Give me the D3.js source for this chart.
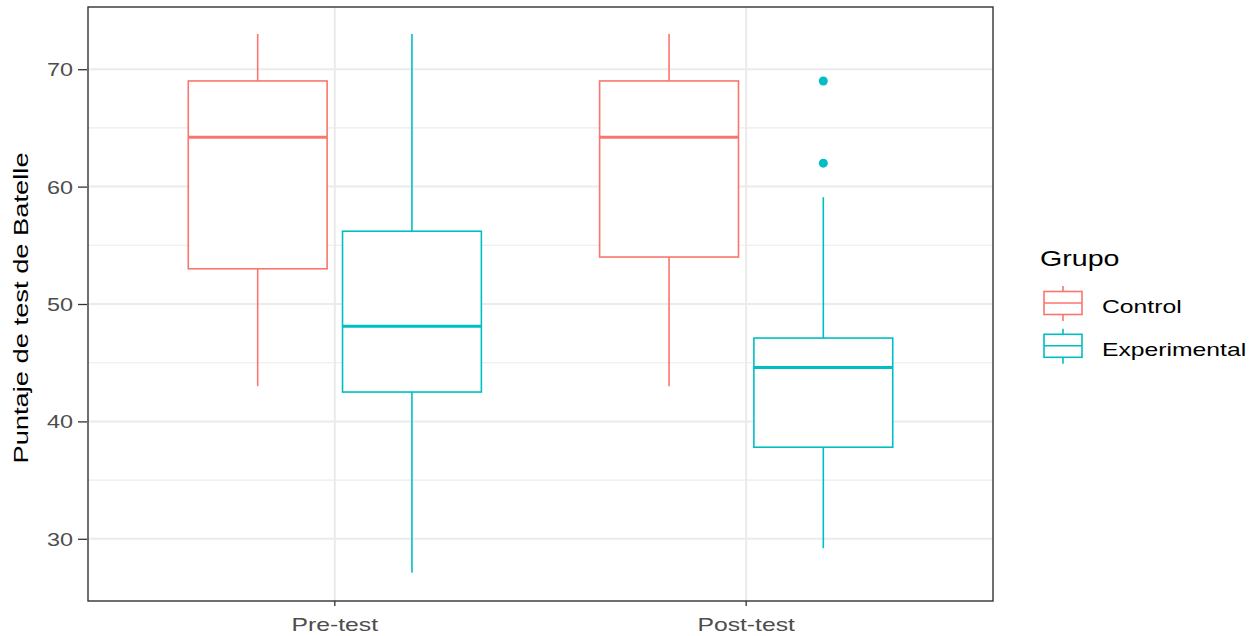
<!DOCTYPE html>
<html><head><meta charset="utf-8">
<script src="https://cdn.jsdelivr.net/npm/d3@7"></script>
<style>body{margin:0;background:#fff}svg{display:block;font-family:"Liberation Sans",Arial,sans-serif}</style>
</head><body><svg id="c" width="1258" height="636"></svg>
<script>
const categories = ["Pre-test", "Post-test"];
const groups = ["Control", "Experimental"];
const colors = ["#F8766D", "#00BFC4"];
// [lower whisker, Q1, median, Q3, upper whisker] per category, per group
const controlStats = [[43, 53, 64.2, 69, 73], [43, 54, 64.2, 69, 73]];
const experimentalStats = [[27.1, 42.5, 48.1, 56.2, 73], [29.2, 37.8, 44.6, 47.1, 59.1]];
const controlOutliers = [[], []];
const experimentalOutliers = [[], [69, 62]];
const yTicks = [30, 40, 50, 60, 70];
const yMinor = [35, 45, 55, 65];
const yTitle = "Puntaje de test de Batelle";
const legendTitle = "Grupo";

const STRETCH = 1.3;
function stretch(sel) {
  sel.each(function () {
    const w = this.getComputedTextLength();
    d3.select(this).attr("textLength", w * STRETCH).attr("lengthAdjust", "spacingAndGlyphs");
  });
}

const svg = d3.select("#c");
const L = 88, R = 993, T = 7, B = 601;
const y = d3.scaleLinear().domain([24.7, 75.3]).range([B, T]);
const x = d3.scaleLinear().domain([0.4, 2.6]).range([L, R]);
const stats = [controlStats, experimentalStats];
const outs = [controlOutliers, experimentalOutliers];

// grid
const g = svg.append("g");
g.selectAll(".mn").data(yMinor).join("line").attr("x1", L).attr("x2", R)
  .attr("y1", d => y(d)).attr("y2", d => y(d)).attr("stroke", "#EBEBEB").attr("stroke-width", 1.1);
g.selectAll(".mj").data(yTicks).join("line").attr("x1", L).attr("x2", R)
  .attr("y1", d => y(d)).attr("y2", d => y(d)).attr("stroke", "#EBEBEB").attr("stroke-width", 2);
g.selectAll(".mx").data(categories).join("line").attr("y1", T).attr("y2", B)
  .attr("x1", (d, i) => x(i + 1)).attr("x2", (d, i) => x(i + 1)).attr("stroke", "#EBEBEB").attr("stroke-width", 2);

// boxes
const halfW = 0.375 * 0.9 / 2;
groups.forEach((grp, gi) => {
  const col = colors[gi];
  categories.forEach((cat, ci) => {
    const s = stats[gi][ci];
    const cx = ci + 1 + (gi === 0 ? -0.1875 : 0.1875);
    const bg = svg.append("g");
    bg.append("line").attr("x1", x(cx)).attr("x2", x(cx)).attr("y1", y(s[4])).attr("y2", y(s[3]))
      .attr("stroke", col).attr("stroke-width", 1.6);
    bg.append("line").attr("x1", x(cx)).attr("x2", x(cx)).attr("y1", y(s[1])).attr("y2", y(s[0]))
      .attr("stroke", col).attr("stroke-width", 1.6);
    bg.append("rect").attr("x", x(cx - halfW)).attr("width", x(cx + halfW) - x(cx - halfW))
      .attr("y", y(s[3])).attr("height", y(s[1]) - y(s[3]))
      .attr("fill", "white").attr("stroke", col).attr("stroke-width", 1.6);
    bg.append("line").attr("x1", x(cx - halfW)).attr("x2", x(cx + halfW)).attr("y1", y(s[2])).attr("y2", y(s[2]))
      .attr("stroke", col).attr("stroke-width", 3);
    bg.selectAll("circle").data(outs[gi][ci]).join("circle").attr("cx", x(cx)).attr("cy", d => y(d))
      .attr("r", 4.5).attr("fill", col);
  });
});

// panel border
svg.append("rect").attr("x", L).attr("y", T).attr("width", R - L).attr("height", B - T)
  .attr("fill", "none").attr("stroke", "#333333").attr("stroke-width", 1.4);

// y axis
const ya = svg.append("g").attr("transform", `translate(${L},0)`)
  .call(d3.axisLeft(y).tickValues(yTicks).tickSize(10).tickPadding(5));
ya.select(".domain").remove();
ya.selectAll(".tick line").attr("stroke", "#333333").attr("stroke-width", 1.3).attr("x2", -10).attr("x1", -1);
ya.selectAll(".tick text").attr("fill", "#4D4D4D").style("font-size", "18px")
  .style("font-family", "Liberation Sans, Arial, sans-serif").attr("dy", "0.36em").call(stretch);

// x axis
const xb = d3.scaleBand().domain(categories).range([x(0.5), x(2.5)]);
const xa = svg.append("g").attr("transform", `translate(0,${B})`)
  .call(d3.axisBottom(xb).tickSize(5).tickPadding(0));
xa.select(".domain").remove();
xa.selectAll(".tick line").attr("stroke", "#333333").attr("stroke-width", 1.3);
xa.selectAll(".tick text").attr("fill", "#4D4D4D").style("font-size", "19px")
  .style("font-family", "Liberation Sans, Arial, sans-serif").attr("y", 30).attr("dy", 0).call(stretch);

// y title
svg.append("text").attr("transform", `translate(28,308) rotate(-90)`)
  .attr("text-anchor", "middle").style("font-size", "21px").attr("fill", "black").text(yTitle).call(stretch);

// legend
svg.append("text").attr("x", 1040).attr("y", 266).style("font-size", "22px").attr("fill", "black").text(legendTitle).call(stretch);
groups.forEach((grp, gi) => {
  const col = colors[gi];
  const top = 286 + gi * 42.8;
  const lg = svg.append("g");
  const kx = 1063;
  lg.append("line").attr("x1", kx).attr("x2", kx).attr("y1", top).attr("y2", top + 35).attr("stroke", col).attr("stroke-width", 1.6);
  lg.append("rect").attr("x", 1044).attr("y", top + 5.5).attr("width", 38).attr("height", 23)
    .attr("fill", "white").attr("stroke", col).attr("stroke-width", 1.6);
  lg.append("line").attr("x1", 1044).attr("x2", 1082).attr("y1", top + 17).attr("y2", top + 17).attr("stroke", col).attr("stroke-width", 1.6);
  lg.append("text").attr("x", 1102).attr("y", top + 27).style("font-size", "19px")
    .attr("fill", "black").text(grp).call(stretch);
});
</script></body></html>
